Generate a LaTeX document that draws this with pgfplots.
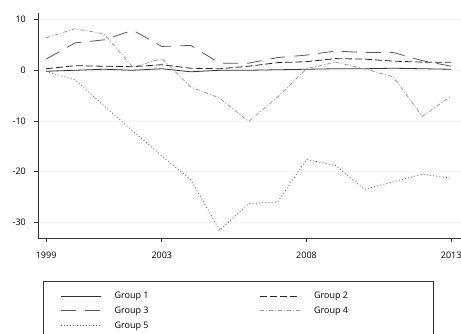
\documentclass[border=0pt]{standalone}
\usepackage{fontspec}
\setmainfont{Open Sans}
\usepackage{pgfplots}
\pgfplotsset{compat=1.18}
\usetikzlibrary{calc}
\definecolor{gridc}{HTML}{EDF5F5}
\begin{document}
\fontsize{9pt}{10.8pt}\selectfont
\begin{tikzpicture}
\begin{axis}[
  name=ax,
  at={(0,0)}, anchor=south west,
  scale only axis,
  width=423pt, height=225pt,
  xmin=1998.72, xmax=2013.34,
  ymin=-33.1, ymax=11.3,
  axis x line*=bottom, axis y line*=left,
  axis line style={line width=0.9pt, black!80},
  xtick={1999,2003,2008,2013},
  ytick={-30,-20,-10,0,10},
  ymajorgrids,
  grid style={gridc, line width=0.6pt},
  tick style={black!80, line width=0.7pt},
  tick align=outside,
  major tick length=4pt,
  x tick label style={yshift=-7pt},
  y tick label style={xshift=-5pt},
  xticklabel style={/pgf/number format/1000 sep={}},
  /pgf/number format/assume math mode=true,
  ticklabel style={font=\fontsize{9pt}{10.8pt}\selectfont},
  legend columns=2,
  legend style={at={(0.0450,-0.222)}, anchor=north west, draw=none, fill=none,
    font=\fontsize{9pt}{10.8pt}\selectfont,
    /tikz/every even column/.append style={column sep=109pt},
    row sep=2.8pt},
  legend cell align=left,
  legend image code/.code={\draw[#1] (0pt,0pt) -- (40pt,0pt); \path[draw=none] (0pt,0pt) -- (52pt,0pt);},
]
\addplot[black!80, line width=0.8pt] coordinates {
(1999,-0.2)(2000,0)(2001,0.2)(2002,0)(2003,0.3)(2004,-0.3)(2005,0)(2006,0)(2007,0.1)(2008,0.2)(2009,0.3)(2010,0.3)(2011,0.4)(2012,0.3)(2013,0.2)};
\addlegendentry{Group 1}
\addplot[black!85, line width=0.8pt, dash pattern=on 7pt off 3pt] coordinates {
(1999,0.3)(2000,0.9)(2001,0.8)(2002,0.7)(2003,1.1)(2004,0.4)(2005,0.3)(2006,0.8)(2007,1.5)(2008,1.7)(2009,2.3)(2010,2.2)(2011,1.8)(2012,1.6)(2013,1.6)};
\addlegendentry{Group 2}
\addplot[black!65, line width=0.8pt, dash pattern=on 15pt off 9pt] coordinates {
(1999,2.2)(2000,5.4)(2001,6.0)(2002,7.9)(2003,4.7)(2004,4.9)(2005,1.4)(2006,1.4)(2007,2.5)(2008,3.0)(2009,3.8)(2010,3.5)(2011,3.5)(2012,1.9)(2013,0.8)};
\addlegendentry{Group 3}
\addplot[black!40, line width=0.8pt, dash pattern=on 4pt off 2pt on 1pt off 2pt] coordinates {
(1999,6.4)(2000,8.2)(2001,7.2)(2002,0.6)(2003,2.3)(2004,-3.3)(2005,-5.5)(2006,-10.1)(2007,-5.3)(2008,0.3)(2009,1.6)(2010,0.3)(2011,-1.3)(2012,-9.1)(2013,-5.1)};
\addlegendentry{Group 4}
\addplot[black!60, line width=0.8pt, dash pattern=on 1pt off 2.2pt] coordinates {
(1999,-0.2)(2000,-1.9)(2001,-7.0)(2002,-12.0)(2003,-16.9)(2004,-21.6)(2005,-31.6)(2006,-26.3)(2007,-26.0)(2008,-17.6)(2009,-18.8)(2010,-23.5)(2011,-22.0)(2012,-20.5)(2013,-21.3)};
\addlegendentry{Group 5}
\end{axis}
\draw[black!80, line width=0.8pt] ($(ax.south west)+(5pt,-43pt)$) rectangle ($(ax.south west)+(395pt,-130pt)$);
\pgfresetboundingbox
\path[use as bounding box] ($(ax.south west)+(-38pt,-95pt)$) rectangle ($(ax.south west)+(423pt,238pt)$);
\end{tikzpicture}
\end{document}
